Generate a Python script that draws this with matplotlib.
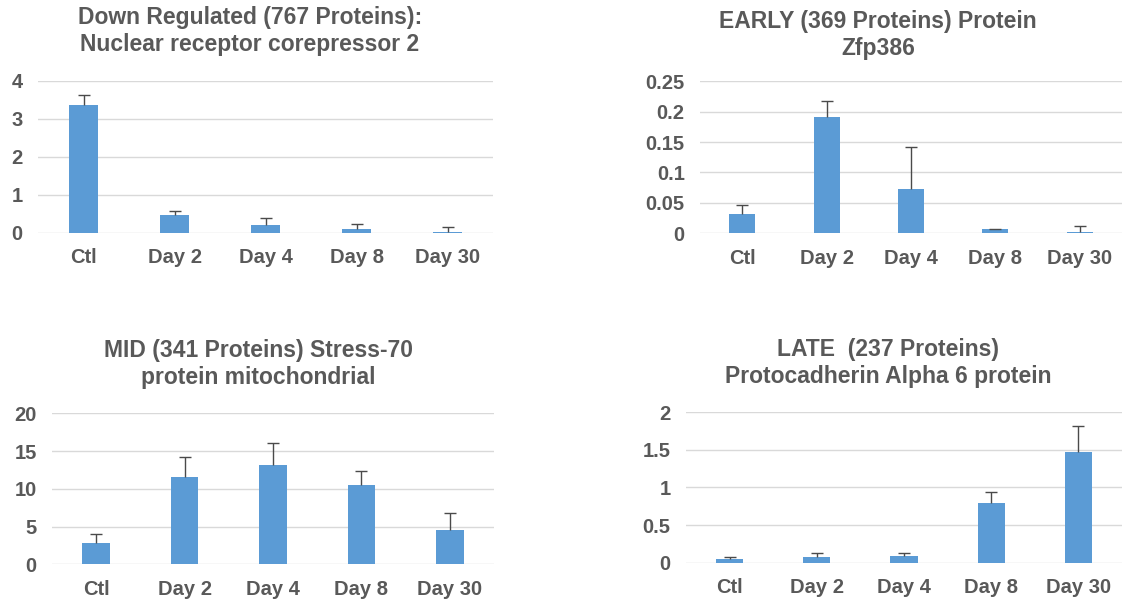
import numpy as np
import matplotlib.pyplot as plt

W, H = 1123, 602

categories = ['Ctl', 'Day 2', 'Day 4', 'Day 8', 'Day 30']

down_vals = [3.37, 0.47, 0.22, 0.10, 0.035]
down_err_top = [3.64, 0.58, 0.39, 0.25, 0.15]

early_vals = [0.031, 0.192, 0.073, 0.0066, 0.0027]
early_err_top = [0.047, 0.218, 0.142, 0.0076, 0.012]

mid_vals = [2.86, 11.5, 13.2, 10.46, 4.5]
mid_err_top = [4.05, 14.25, 16.1, 12.3, 6.75]

late_vals = [0.053, 0.071, 0.089, 0.79, 1.47]
late_err_top = [0.08, 0.124, 0.124, 0.935, 1.82]

titles = ['Down Regulated (767 Proteins):\nNuclear receptor corepressor 2',
          'EARLY (369 Proteins) Protein\nZfp386',
          'MID (341 Proteins) Stress-70\nprotein mitochondrial',
          'LATE  (237 Proteins)\nProtocadherin Alpha 6 protein']

BAR = '#5B9BD5'
TXT = '#595959'
GRID = '#D9D9D9'

plt.rcParams['font.family'] = ['Liberation Sans', 'DejaVu Sans']

fig = plt.figure(figsize=(W / 100, H / 100), dpi=100)


def panel(box, vals, err_top, ymax, step, ticklabels, title, title_xy):
    x0, x1, ytop, yzero = box
    ax = fig.add_axes([x0 / W, (H - yzero) / H, (x1 - x0) / W, (yzero - ytop) / H])
    x = np.arange(len(categories))
    vals = np.array(vals)
    up = np.array(err_top) - vals
    ax.bar(x, vals, width=0.31, color=BAR, zorder=3)
    _, caps, _ = ax.errorbar(x, vals, yerr=[np.zeros_like(up), up], fmt='none',
                             ecolor='#4a4a4a', elinewidth=1, capsize=4,
                             capthick=1, zorder=4)
    # only the upper cap, like the original
    caps[0].set_visible(False)
    ax.set_xlim(-0.5, len(categories) - 0.5)
    ax.set_ylim(0, ymax)
    ticks = np.arange(0, ymax + step / 2, step)
    ax.set_yticks(ticks)
    ax.set_yticklabels(ticklabels)
    ax.set_xticks(x)
    ax.set_xticklabels(categories)
    for s in ax.spines.values():
        s.set_visible(False)
    ax.grid(axis='y', color=GRID, lw=1, zorder=0)
    ax.set_axisbelow(True)
    ax.tick_params(axis='both', length=0, labelsize=14.5, labelcolor=TXT)
    ax.tick_params(axis='x', pad=11)
    ax.tick_params(axis='y', pad=11)
    for lab in ax.get_xticklabels() + ax.get_yticklabels():
        lab.set_fontweight('bold')
    fig.text(title_xy[0] / W, 1 - title_xy[1] / H, title, ha='center', va='center',
             fontsize=16.5, fontweight='bold', color=TXT, linespacing=1.22)
    return ax


panel((38, 493, 81, 233), down_vals, down_err_top, 4, 1,
      ['0', '1', '2', '3', '4'], titles[0], (250, 31))
panel((700, 1122, 81.3, 233.3), early_vals, early_err_top, 0.25, 0.05,
      ['0', '0.05', '0.1', '0.15', '0.2', '0.25'], titles[1], (878, 35))
panel((52, 494, 413.3, 564.3), mid_vals, mid_err_top, 20, 5,
      ['0', '5', '10', '15', '20'], titles[2], (258, 364))
panel((686, 1122, 412, 562.7), late_vals, late_err_top, 2, 0.5,
      ['0', '0.5', '1', '1.5', '2'], titles[3], (888, 363))

fig.savefig('out.png', dpi=100)
